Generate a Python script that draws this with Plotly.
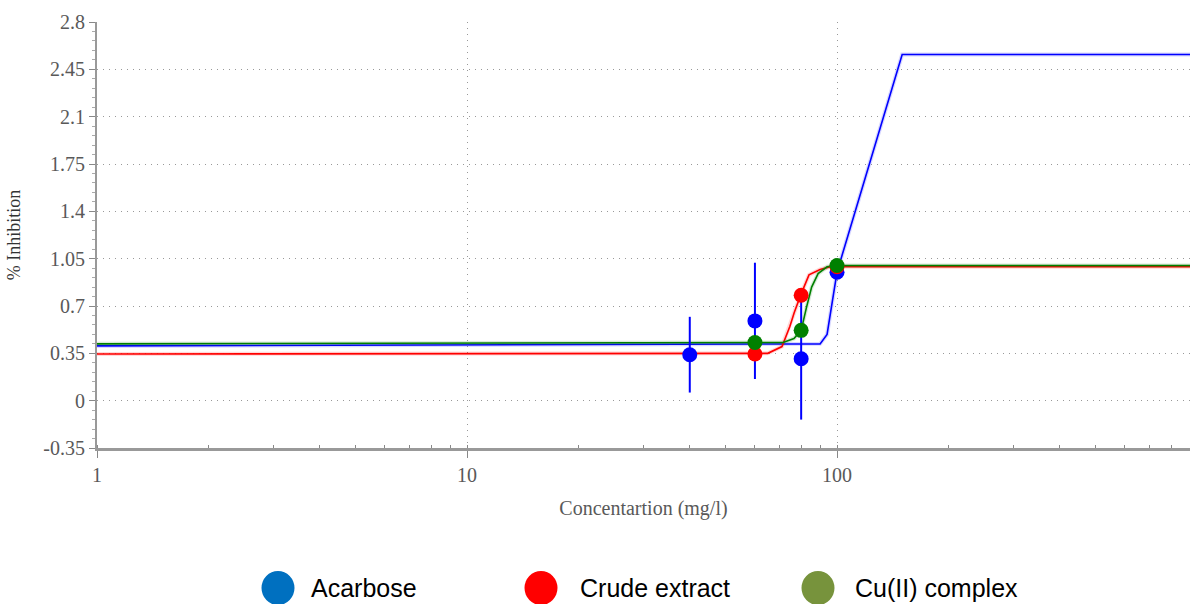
import plotly.graph_objects as go

# Measured points (concentration in mg/l, % inhibition)
acarbose_x = [40, 60, 80, 100]
acarbose_y = [0.34, 0.59, 0.31, 0.95]
acarbose_err = [0.28, 0.43, 0.45, 0.0]

crude_x = [60, 80, 100]
crude_y = [0.345, 0.78, 0.99]

complex_x = [60, 80, 100]
complex_y = [0.43, 0.52, 1.0]

# Fitted dose-response curves
acarbose_fit_x = [1, 90, 94, 97, 100, 150, 900]
acarbose_fit_y = [0.405, 0.42, 0.49, 0.72, 0.95, 2.56, 2.56]

crude_fit_x = [1, 65, 71, 74.6, 76.6, 80, 84, 90, 96, 100, 900]
crude_fit_y = [0.345, 0.35, 0.40, 0.55, 0.65, 0.79, 0.93, 0.97, 0.99, 0.99, 0.99]

complex_fit_x = [1, 71.5, 76.5, 80, 82.7, 85.4, 88.9, 94, 100, 900]
complex_fit_y = [0.42, 0.43, 0.46, 0.52, 0.69, 0.84, 0.94, 0.99, 1.0, 1.0]

y_ticks = [-0.35, 0, 0.35, 0.7, 1.05, 1.4, 1.75, 2.1, 2.45, 2.8]
y_tick_text = ["-0.35", "0", "0.35", "0.7", "1.05", "1.4", "1.75", "2.1", "2.45", "2.8"]
x_ticks = [1, 10, 100]
x_tick_text = ["1", "10", "100"]

legend_names = ["Acarbose", "Crude extract", "Cu(II) complex"]
legend_colors = ["#0070C0", "#FF0000", "#77933C"]

BLUE, RED, GREEN = "#0000FF", "#FF0000", "#008000"

fig = go.Figure()

# curves: a soft wide halo beneath a thin line
for fx, fy, col in [(acarbose_fit_x, acarbose_fit_y, BLUE),
                    (crude_fit_x, crude_fit_y, RED),
                    (complex_fit_x, complex_fit_y, GREEN)]:
    fig.add_trace(go.Scatter(x=fx, y=fy, mode="lines", showlegend=False,
                             line=dict(color=col, width=4), opacity=0.15,
                             hoverinfo="skip"))
    fig.add_trace(go.Scatter(x=fx, y=fy, mode="lines", showlegend=False,
                             line=dict(color=col, width=1.6)))

fig.add_trace(go.Scatter(
    x=acarbose_x, y=acarbose_y, mode="markers", showlegend=False,
    marker=dict(color=BLUE, size=15),
    error_y=dict(type="data", array=acarbose_err, color=BLUE, thickness=2, width=0)))
fig.add_trace(go.Scatter(x=crude_x, y=crude_y, mode="markers", showlegend=False,
                         marker=dict(color=RED, size=15)))
fig.add_trace(go.Scatter(x=complex_x, y=complex_y, mode="markers", showlegend=False,
                         marker=dict(color=GREEN, size=15)))

# legend row below the plot
PLOT_L, PLOT_W, PLOT_B, PLOT_H = 97, 1093, 448, 426
legend_circle_px = [278, 541, 818]
legend_text_px = [309, 578, 853]
legend_y = (PLOT_B - 588) / PLOT_H
shapes = []
annotations = []
for name, col, cx, tx in zip(legend_names, legend_colors, legend_circle_px, legend_text_px):
    shapes.append(dict(type="circle", xref="paper", yref="paper",
                       xsizemode="pixel", ysizemode="pixel",
                       xanchor=(cx - PLOT_L) / PLOT_W, yanchor=legend_y,
                       x0=-16.5, x1=16.5, y0=-17, y1=17,
                       fillcolor=col, line=dict(width=0)))
    annotations.append(dict(xref="paper", yref="paper",
                            x=(tx - PLOT_L) / PLOT_W, y=legend_y,
                            xanchor="left", yanchor="middle", showarrow=False,
                            text=name,
                            font=dict(family="Liberation Sans", size=25, color="#000000")))

serif = "Liberation Serif"
grey = "#595959"
grid_dash = "1px,5px"

fig.update_layout(
    width=1190, height=604,
    margin=dict(l=97, r=0, t=22, b=156),
    paper_bgcolor="white", plot_bgcolor="white",
    shapes=shapes, annotations=annotations,
    xaxis=dict(
        type="log", range=[0, 2.954],
        tickvals=x_ticks, ticktext=x_tick_text,
        ticks="outside", ticklen=7, tickcolor="#888888",
        tickfont=dict(family=serif, size=20, color=grey),
        showline=True, linecolor="#999999", linewidth=3,
        showgrid=True, gridcolor="#999999", griddash=grid_dash, gridwidth=1,
        minor=dict(ticks="inside", ticklen=3, tickcolor="#888888", dtick="D1", showgrid=False),
        title=dict(text="Concentartion (mg/l)", standoff=16,
                   font=dict(family=serif, size=20, color=grey)),
        zeroline=False,
    ),
    yaxis=dict(
        range=[-0.35, 2.8],
        tickvals=y_ticks, ticktext=y_tick_text,
        ticks="outside", ticklen=6, tickcolor="#888888",
        tickfont=dict(family=serif, size=20, color=grey),
        showline=True, linecolor="#999999", linewidth=2,
        showgrid=True, gridcolor="#999999", griddash=grid_dash, gridwidth=1,
        minor=dict(ticks="outside", ticklen=3, tickcolor="#aaaaaa", dtick=0.07, showgrid=False),
        title=dict(text="% Inhibition", standoff=18,
                   font=dict(family=serif, size=18, color="#333333")),
        zeroline=False,
    ),
)

fig.write_html("out.html")
